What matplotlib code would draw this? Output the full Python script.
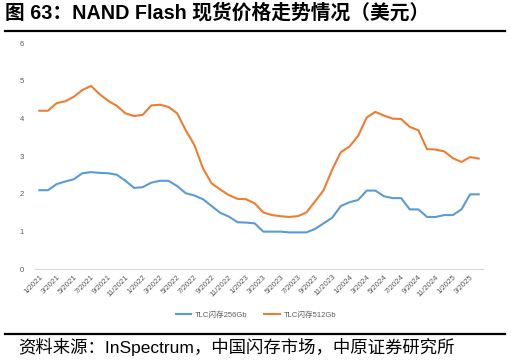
import matplotlib
matplotlib.use("Agg")
import matplotlib.pyplot as plt
from matplotlib.lines import Line2D

plt.rcParams['font.family'] = ['Liberation Sans', 'Noto Sans CJK SC', 'DejaVu Sans']

# Monthly, Jan 2021 .. Apr 2025
months = [f"{m}/{y}" for y in range(2021, 2026) for m in range(1, 13)][:52]
tick_labels = [lab for i, lab in enumerate(months) if i % 2 == 0]

tlc256 = [2.10, 2.10, 2.26, 2.33, 2.39, 2.55, 2.58, 2.56, 2.55, 2.51,
          2.35, 2.16, 2.18, 2.30, 2.35, 2.35, 2.21, 2.02, 1.96, 1.86,
          1.68, 1.50, 1.40, 1.25, 1.24, 1.22, 1.00, 1.00, 1.00, 0.98,
          0.98, 0.98, 1.07, 1.22, 1.37, 1.68, 1.78, 1.84, 2.09, 2.09,
          1.94, 1.89, 1.89, 1.59, 1.59, 1.39, 1.39, 1.44, 1.44, 1.59,
          1.99, 1.99]
tlc512 = [4.21, 4.21, 4.41, 4.46, 4.58, 4.76, 4.87, 4.65, 4.47, 4.34,
          4.14, 4.07, 4.10, 4.35, 4.37, 4.31, 4.14, 3.69, 3.30, 2.68,
          2.28, 2.12, 1.97, 1.87, 1.86, 1.75, 1.51, 1.44, 1.41, 1.39,
          1.41, 1.51, 1.80, 2.10, 2.65, 3.11, 3.26, 3.54, 4.03, 4.18,
          4.08, 4.00, 3.99, 3.78, 3.69, 3.19, 3.18, 3.13, 2.95, 2.85,
          2.98, 2.94]
series_names = ["TLC闪存256Gb", "TLC闪存512Gb"]
colors = ["#5B9BD5", "#ED7D31"]
yticks = [0, 1, 2, 3, 4, 5, 6]

W, H = 511, 363
fig = plt.figure(figsize=(W / 100, H / 100), dpi=100)
ax = fig.add_axes([35 / W, 1 - 269.3 / H, (483 - 35) / W, (269.3 - 43.3) / H])

x = list(range(len(months)))
ax.plot(x, tlc256, color=colors[0], lw=1.5, solid_joinstyle='round')
ax.plot(x, tlc512, color=colors[1], lw=1.5, solid_joinstyle='round')

ax.set_xlim(-0.5, len(months) - 0.5)
ax.set_ylim(0, 6)
ax.set_yticks(yticks)
ax.set_yticklabels([str(v) for v in yticks], fontsize=5.5, color='#595959')
ax.set_xticks(x[::2])
ax.set_xticklabels(tick_labels, rotation=45, ha='right', va='top',
                   rotation_mode='anchor', fontsize=5.6, color='#595959')
ax.tick_params(axis='both', length=0, pad=3)
ax.tick_params(axis='y', pad=8)
for s in ['top', 'right', 'left']:
    ax.spines[s].set_visible(False)
ax.spines['bottom'].set_color('#D9D9D9')
ax.spines['bottom'].set_linewidth(0.8)

handles = [Line2D([], [], color=c, lw=1.5) for c in colors]
leg = fig.legend(handles, series_names, loc='center', ncol=2,
                 bbox_to_anchor=(256 / W, 1 - 315 / H), frameon=False,
                 fontsize=5.5, handlelength=2.0, columnspacing=2.2,
                 handletextpad=0.5)
for t in leg.get_texts():
    t.set_color('#595959')

# Title and rules
fig.text(5 / W, 1 - 13 / H, "图 63：NAND Flash 现货价格走势情况（美元）",
         fontsize=14.2, fontweight='bold', ha='left', va='center', color='black')
fig.add_artist(Line2D([5 / W, 505 / W], [1 - 31 / H, 1 - 31 / H], color='black', lw=1.6))
fig.add_artist(Line2D([5 / W, 505 / W], [1 - 334 / H, 1 - 334 / H], color='black', lw=1.6))
fig.text(18 / W, 1 - 347 / H, "资料来源：InSpectrum，中国闪存市场，中原证券研究所",
         fontsize=12.5, ha='left', va='center', color='black')

fig.savefig("out.png", dpi=100)
